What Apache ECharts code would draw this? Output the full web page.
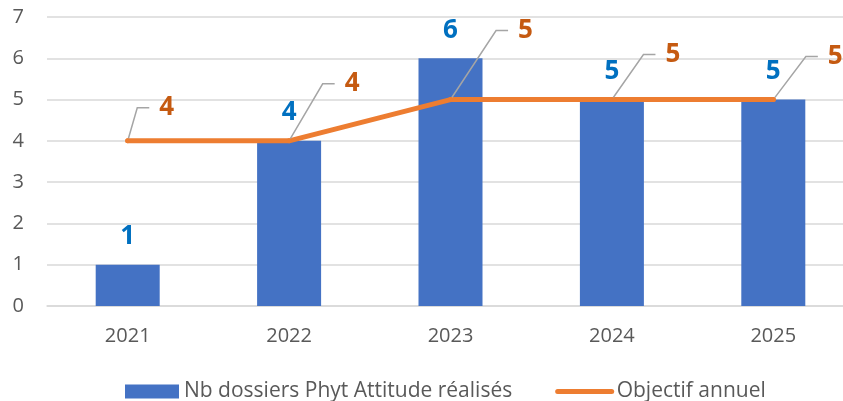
<!DOCTYPE html>
<html>
<head>
<meta charset="utf-8">
<script src="https://cdn.jsdelivr.net/npm/echarts@6/dist/echarts.min.js"></script>
<style>
    html, body {margin: 0; padding: 0; background: #fff;}
    #chart {width: 843px; height: 401px;}
</style>
</head>
<body>
<div id="chart"></div>
<script>
    var years = ['2021', '2022', '2023', '2024', '2025'];
    var dossiers = [1, 4, 6, 5, 5];
    var objectif = [4, 4, 5, 5, 5];
    var yTicks = [0, 1, 2, 3, 4, 5, 6, 7];

    // decalage des etiquettes de l'objectif (deplacees a la main dans l'original)
    var labelShift = [[39, -30], [63, -54], [75, -66], [61, -42], [62, -40]];

    var font = 'Open Sans';
    var chart = echarts.init(document.getElementById('chart'));

    var option = {
        animation: false,
        // la zone de trace deborde a droite comme dans l'original (image rognee)
        grid: {left: 47, width: 807, top: 17, bottom: 95, outerBoundsMode: 'none'},
        legend: {
            top: 376,
            left: 120,
            itemWidth: 54,
            itemHeight: 14,
            itemGap: 43,
            textStyle: {fontFamily: font, fontSize: 21, color: '#595959'},
            data: [
                {name: 'Nb dossiers Phyt Attitude réalisés', icon: 'rect'},
                {
                    name: 'Objectif annuel',
                    itemStyle: {opacity: 0},
                    lineStyle: {width: 5, cap: 'round', color: '#ED7D31'}
                }
            ]
        },
        xAxis: {
            type: 'category',
            data: years,
            axisLine: {lineStyle: {color: '#D9D9D9', width: 1.5}},
            axisTick: {show: false},
            axisLabel: {fontFamily: font, fontSize: 20, color: '#595959', margin: 20}
        },
        yAxis: {
            type: 'value',
            min: yTicks[0],
            max: yTicks[yTicks.length - 1],
            interval: 1,
            axisLine: {show: false},
            axisTick: {show: false},
            axisLabel: {fontFamily: font, fontSize: 20, color: '#595959', margin: 23},
            splitLine: {lineStyle: {color: '#D9D9D9', width: 1.5}}
        },
        series: [
            {
                name: 'Nb dossiers Phyt Attitude réalisés',
                type: 'bar',
                data: dossiers,
                barWidth: 64,
                itemStyle: {color: '#4472C4'},
                label: {
                    show: true,
                    position: 'top',
                    distance: 15,
                    fontFamily: font,
                    fontWeight: 'bold',
                    fontSize: 26,
                    color: '#0070C0'
                }
            },
            {
                name: 'Objectif annuel',
                type: 'line',
                data: objectif,
                symbol: 'circle',
                symbolSize: 5,
                showSymbol: true,
                itemStyle: {color: '#ED7D31'},
                lineStyle: {color: '#ED7D31', width: 5, cap: 'round'},
                label: {
                    show: true,
                    position: 'inside',
                    fontFamily: font,
                    fontWeight: 'bold',
                    fontSize: 26,
                    color: '#C55A11',
                    // fond transparent + marge droite : le trait part du cote gauche
                    backgroundColor: 'rgba(255,255,255,0)',
                    padding: [6, 40, 0, 10]
                },
                labelLine: {
                    show: true,
                    length2: 12,
                    lineStyle: {color: '#A5A5A5', width: 1.5}
                },
                labelLayout: function (params) {
                    var s = labelShift[params.dataIndex];
                    return {dx: s[0] + 15, dy: s[1] - 3};
                }
            }
        ]
    };

    chart.setOption(option);
</script>
</body>
</html>
